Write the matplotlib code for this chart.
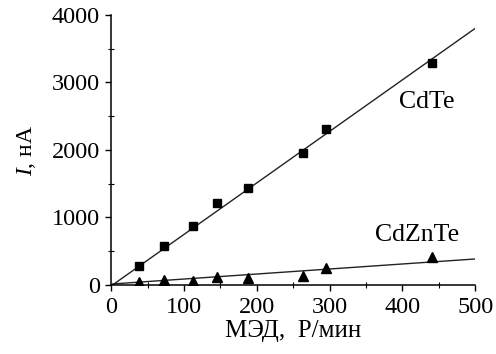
import matplotlib.pyplot as plt
from matplotlib.ticker import MultipleLocator

# dose rate, R/min
dose = [38, 73, 112, 146, 188, 264, 295, 441]
cdte = [281, 578, 879, 1215, 1441, 1956, 2311, 3289]
cdznte = [40, 74, 64, 118, 104, 133, 250, 415]

# straight fit lines, read at the ends of the axis
fit_x = [2, 500]
cdte_fit = [0, 3800]
cdznte_fit = [15, 385]

plt.rcParams['font.family'] = ['Liberation Serif', 'DejaVu Serif']
plt.rcParams['mathtext.fontset'] = 'custom'
plt.rcParams['mathtext.it'] = 'Liberation Serif:italic'
plt.rcParams['mathtext.rm'] = 'Liberation Serif'

fig = plt.figure(figsize=(4.96, 3.54), dpi=100)
ax = fig.add_axes([0.224, 0.195, 0.734, 0.763])

ax.plot(fit_x, cdte_fit, color='#222222', lw=1.0)
ax.plot(fit_x, cdznte_fit, color='#222222', lw=1.0)
ax.plot(dose, cdte, 's', color='black', ms=5.5)
ax.plot(dose, cdznte, '^', color='black', ms=6.5)

ax.text(434, 2711, 'CdTe', fontsize=18.5, ha='center', va='center')
ax.text(420, 740, 'CdZnTe', fontsize=18.5, ha='center', va='center')

ax.set_xlim(0, 500)
ax.set_ylim(0, 4000)
ax.xaxis.set_major_locator(MultipleLocator(100))
ax.xaxis.set_minor_locator(MultipleLocator(50))
ax.yaxis.set_major_locator(MultipleLocator(1000))
ax.yaxis.set_minor_locator(MultipleLocator(500))
ax.tick_params(which='major', direction='out', length=4, width=1, labelsize=17.5)
ax.tick_params(axis='x', which='major', pad=5)
ax.tick_params(axis='y', which='major', pad=4)
ax.tick_params(which='minor', direction='inout', length=4, width=0.8)

for side in ['top', 'right']:
    ax.spines[side].set_visible(False)
for side in ['left', 'bottom']:
    ax.spines[side].set_linewidth(1.1)

ax.set_xlabel('МЭД,  Р/мин', fontsize=18, labelpad=1)
ax.set_ylabel('$\\mathit{I}$, нА', fontsize=17, labelpad=10)

fig.savefig('out.png', dpi=100)
